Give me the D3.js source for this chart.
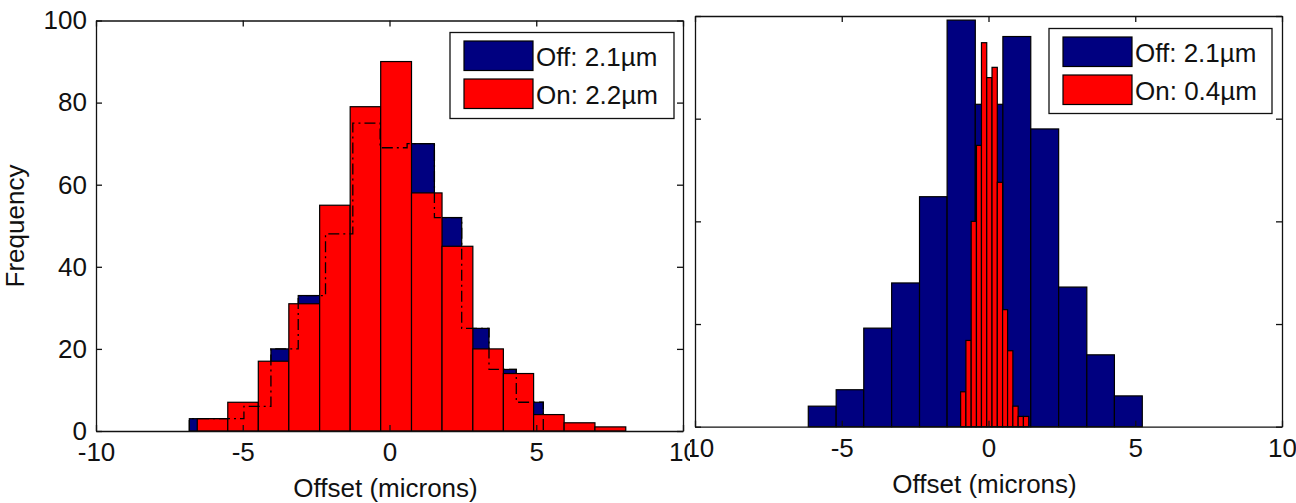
<!DOCTYPE html>
<html>
<head>
<meta charset="utf-8">
<script src="https://cdn.jsdelivr.net/npm/d3@7"></script>
<style>
  body { margin: 0; background: #fff; }
  text { font-family: "Liberation Sans", Arial, sans-serif; fill: #111; }
</style>
</head>
<body>
<script>
// left panel - both histograms wide
var leftOffEdges  = [-6.82, -5.89, -4.96, -4.04, -3.11, -2.18, -1.25, -0.32, 0.60, 1.53, 2.46, 3.39, 4.32, 5.24];
var leftOffCounts = [3, 3, 6, 20, 33, 48, 75, 69, 70, 52, 25, 15, 7];
var leftOnEdges   = [-6.55, -5.51, -4.47, -3.43, -2.38, -1.34, -0.30, 0.75, 1.79, 2.84, 3.88, 4.91, 5.95, 7.00, 8.05];
var leftOnCounts  = [3, 7, 17, 31, 55, 79, 90, 58, 45, 20, 14, 4, 2, 1];

// right panel - "on" is narrow
var rightOffEdges  = [-6.14, -5.19, -4.25, -3.30, -2.35, -1.41, -0.45, 0.49, 1.44, 2.39, 3.35, 4.29, 5.24];
var rightOffCounts = [10, 18, 48, 70, 112, 198, 157, 190, 145, 68, 35, 15];
var rightOnEdges   = [-0.95, -0.77, -0.59, -0.41, -0.24, -0.06, 0.12, 0.30, 0.48, 0.65, 0.83, 1.01, 1.19, 1.37];
var rightOnCounts  = [17, 42, 100, 137, 187, 170, 175, 119, 57, 37, 10, 5, 5];

var xTicks = [-10, -5, 0, 5, 10];
var leftYTicks = [0, 20, 40, 60, 80, 100];
var rightYTicks = [0, 50, 100, 150, 200];
var leftLegend = ["Off: 2.1\u00b5m", "On: 2.2\u00b5m"];
var rightLegend = ["Off: 2.1\u00b5m", "On: 0.4\u00b5m"];
var xLabel = "Offset (microns)";
var yLabel = "Frequency";

var window_w = 1296;
var window_h = 503;
var offColor = "#000080";
var onColor = "#ff0000";

var svg = d3.select("body").append("svg")
    .attr("width", window_w)
    .attr("height", window_h);

svg.append("rect").attr("width", window_w).attr("height", window_h).attr("fill", "#fff");

function bins(edges, counts) {
  return counts.map(function (c, i) { return {x0: edges[i], x1: edges[i + 1], n: c}; });
}

function render(g, box, yMax, yTicks, showY, off, on, legend, lg, stairs) {
  var xScale = d3.scaleLinear().domain([-10, 10]).range([box.left, box.right]);
  var yScale = d3.scaleLinear().domain([0, yMax]).range([box.bottom, box.top]);

  function drawBars(data, color) {
    g.append("g").selectAll("rect").data(data).enter().append("rect")
      .attr("x", function (d) { return xScale(d.x0); })
      .attr("width", function (d) { return xScale(d.x1) - xScale(d.x0); })
      .attr("y", function (d) { return yScale(d.n); })
      .attr("height", function (d) { return yScale(0) - yScale(d.n); })
      .attr("fill", color)
      .attr("stroke", "#000")
      .attr("stroke-width", 1.2);
  }
  drawBars(off, offColor);
  drawBars(on, onColor);

  // outline of the hidden "off" histogram, dash-dot
  if (stairs) {
    var pts = [[off[0].x0, 0]];
    off.forEach(function (d) { pts.push([d.x0, d.n]); pts.push([d.x1, d.n]); });
    pts.push([off[off.length - 1].x1, 0]);
    var line = d3.line()
      .x(function (d) { return xScale(d[0]); })
      .y(function (d) { return yScale(d[1]); });
    g.append("path")
      .attr("d", line(pts))
      .attr("fill", "none")
      .attr("stroke", "#000")
      .attr("stroke-width", 1.3)
      .attr("stroke-dasharray", "11,4,2,4");
  }

  var axes = [
    {a: d3.axisBottom(xScale).tickValues(xTicks).tickFormat(d3.format("d")).tickPadding(12), t: "translate(0," + box.bottom + ")"},
    {a: d3.axisTop(xScale).tickValues(xTicks).tickFormat(""), t: "translate(0," + box.top + ")"},
    {a: d3.axisLeft(yScale).tickValues(yTicks).tickFormat(showY ? d3.format("d") : "").tickPadding(9), t: "translate(" + box.left + ",0)"},
    {a: d3.axisRight(yScale).tickValues(yTicks).tickFormat(""), t: "translate(" + box.right + ",0)"}
  ];
  axes.forEach(function (ax) {
    var ag = g.append("g")
      .attr("transform", ax.t)
      .call(ax.a.tickSize(-6).tickSizeOuter(0));
    ag.selectAll("path, line").attr("stroke", "#111").attr("stroke-width", 1.3);
    ag.attr("font-size", 26).attr("font-family", "Liberation Sans, Arial, sans-serif");
    ag.selectAll("text").attr("fill", "#111").text(function (d) { return d3.select(this).text().replace("\u2212", "-"); });
  });

  g.append("text")
    .attr("x", (box.left + box.right) / 2 - 4)
    .attr("y", box.bottom + 66)
    .attr("text-anchor", "middle")
    .attr("font-size", 26)
    .text(xLabel);

  // legend
  var lgG = g.append("g").attr("transform", "translate(" + lg.x + "," + lg.y + ")");
  lgG.append("rect")
    .attr("width", lg.w).attr("height", lg.h)
    .attr("fill", "#fff").attr("stroke", "#111").attr("stroke-width", 1.3);
  [offColor, onColor].forEach(function (c, i) {
    lgG.append("rect")
      .attr("x", 14).attr("y", 8.5 + i * 38)
      .attr("width", 69).attr("height", 29.5)
      .attr("fill", c).attr("stroke", "#000").attr("stroke-width", 1.2);
    lgG.append("text")
      .attr("x", 86).attr("y", 8.5 + i * 38 + 25)
      .attr("font-size", 26)
      .text(legend[i]);
  });
}

var gLeft = svg.append("g");
render(gLeft, {left: 96, right: 683, top: 20.5, bottom: 431}, 100, leftYTicks, true,
       bins(leftOffEdges, leftOffCounts), bins(leftOnEdges, leftOnCounts),
       leftLegend, {x: 450, y: 32.5, w: 224, h: 86}, true);

gLeft.append("text")
  .attr("transform", "rotate(-90)")
  .attr("x", -226)
  .attr("y", 24)
  .attr("text-anchor", "middle")
  .attr("font-size", 26)
  .text(yLabel);

// right panel sits on its own white sheet, clipped on the left
svg.append("clipPath").attr("id", "rclip")
  .append("rect").attr("x", 690).attr("y", 0).attr("width", window_w - 690).attr("height", window_h);
var gRight = svg.append("g").attr("clip-path", "url(#rclip)");
gRight.append("rect").attr("x", 690).attr("width", window_w - 690).attr("height", window_h).attr("fill", "#fff");
render(gRight, {left: 695, right: 1282, top: 16, bottom: 426.7}, 200, rightYTicks, false,
       bins(rightOffEdges, rightOffCounts), bins(rightOnEdges, rightOnCounts),
       rightLegend, {x: 1049, y: 28.5, w: 223, h: 85}, false);
</script>
</body>
</html>
